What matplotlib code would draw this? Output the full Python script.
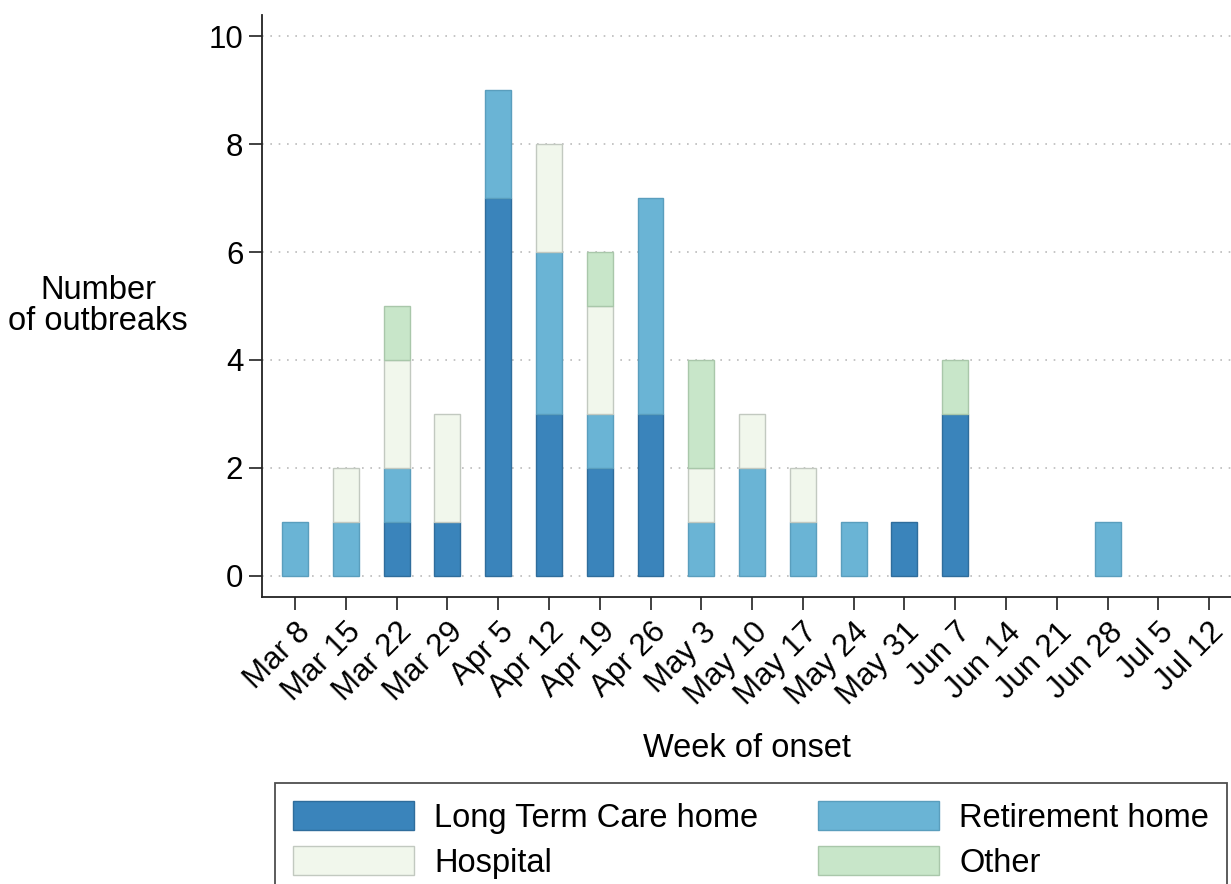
import numpy as np
import matplotlib
matplotlib.use("Agg")
import matplotlib.pyplot as plt
from matplotlib.patches import Patch

plt.rcParams['font.family'] = ['Liberation Sans', 'DejaVu Sans']

weeks = ["Mar 8", "Mar 15", "Mar 22", "Mar 29", "Apr 5", "Apr 12", "Apr 19",
         "Apr 26", "May 3", "May 10", "May 17", "May 24", "May 31", "Jun 7",
         "Jun 14", "Jun 21", "Jun 28", "Jul 5", "Jul 12"]
ltc        = [0, 0, 1, 1, 7, 3, 2, 3, 0, 0, 0, 0, 1, 3, 0, 0, 0, 0, 0]
retirement = [1, 1, 1, 0, 2, 3, 1, 4, 1, 2, 1, 1, 0, 0, 0, 0, 1, 0, 0]
hospital   = [0, 1, 2, 2, 0, 2, 2, 0, 1, 1, 1, 0, 0, 0, 0, 0, 0, 0, 0]
other      = [0, 0, 1, 0, 0, 0, 1, 0, 2, 0, 0, 0, 0, 1, 0, 0, 0, 0, 0]

series = [
    ("Long Term Care home", ltc, "#3a84bb", "#2f6d9c"),
    ("Retirement home", retirement, "#6ab4d5", "#5a9ebd"),
    ("Hospital", hospital, "#f1f7ec", "#c2c9c0"),
    ("Other", other, "#c8e6c9", "#a9c7aa"),
]

W, H = 1231, 884
fig = plt.figure(figsize=(W / 100, H / 100), dpi=100)
ax = fig.add_axes([262 / W, 1 - 597 / H, 1 - 262 / W, (597 - 15) / H])

FS = 23.5
TFS = 22.5

x = np.arange(len(weeks))
bottom = np.zeros(len(weeks))
handles = {}
for name, vals, fc, ec in series:
    vals = np.array(vals, dtype=float)
    bars = ax.bar(x, vals, width=0.51, bottom=bottom, color=fc, edgecolor=ec,
                  linewidth=1.0, zorder=3)
    for p, v in zip(bars.patches, vals):
        if v == 0:
            p.set_visible(False)
    handles[name] = Patch(facecolor=fc, edgecolor=ec, linewidth=1.0)
    bottom += vals

ax.set_ylim(-0.39, 10.39)
ax.set_xlim(-0.65, 18.43)
ax.set_yticks([0, 2, 4, 6, 8, 10])
ax.yaxis.grid(True, linestyle=(0, (1, 4)), color="#bbbbbb", linewidth=1.2, zorder=0)
ax.set_axisbelow(True)
for s in ["top", "right"]:
    ax.spines[s].set_visible(False)
for s in ["left", "bottom"]:
    ax.spines[s].set_linewidth(1.3)
    ax.spines[s].set_color("#222222")

ax.set_xticks(x)
ax.set_xticklabels(weeks, rotation=45, ha="right", rotation_mode="anchor")
ax.tick_params(axis="both", labelsize=TFS, length=9.5, width=1.3, color="#333333")
ax.tick_params(axis="x", pad=5)
ax.tick_params(axis="y", pad=4)

ax.set_xlabel("Week of onset", fontsize=FS, labelpad=16)
fig.text(98 / W, 1 - 306 / H, "Number\nof outbreaks", fontsize=FS,
         ha="center", va="center", linespacing=1.0)

order = ["Long Term Care home", "Hospital", "Retirement home", "Other"]
leg = fig.legend(handles=[handles[n] for n in order], labels=order, ncol=2,
                 loc="upper left", bbox_to_anchor=(275 / W, 1 - 783 / H),
                 bbox_transform=fig.transFigure, fontsize=FS,
                 frameon=True, fancybox=False, borderaxespad=0,
                 handlelength=3.7, handleheight=1.0, handletextpad=0.62,
                 columnspacing=1.85, labelspacing=0.38, borderpad=0.55)
leg.get_frame().set_edgecolor("#222222")
leg.get_frame().set_linewidth(1.3)

fig.savefig("out.png", dpi=100)
